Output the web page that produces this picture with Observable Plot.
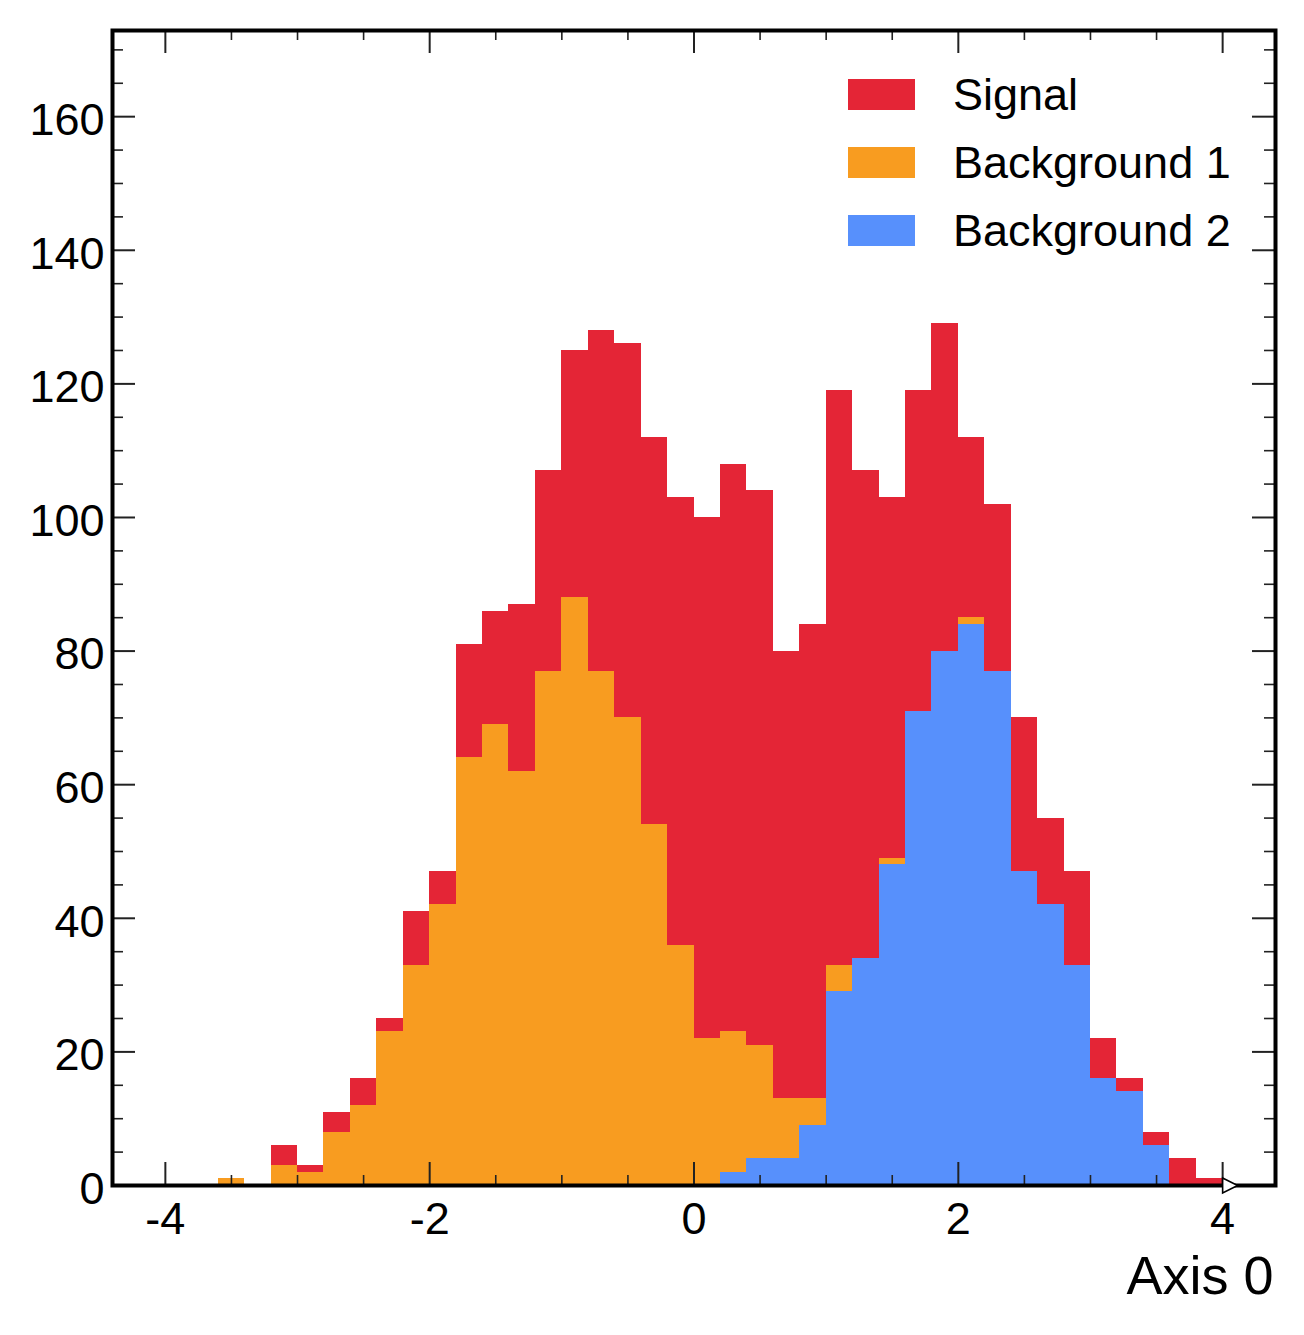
<!DOCTYPE html>
<html>
<head>
<meta charset="utf-8">
<script src="https://cdn.jsdelivr.net/npm/d3@7"></script>
<script src="https://cdn.jsdelivr.net/npm/@observablehq/plot@0.6"></script>
<style>
  html, body { margin: 0; padding: 0; background: #fff; overflow: hidden; }
  #chart svg { display: block; }
</style>
</head>
<body>
<div id="chart"></div>
<script>
// Bin edges (40 bins, width 0.2)
const binEdges = [-4.0, -3.8, -3.6, -3.4, -3.2, -3.0, -2.8, -2.6, -2.4, -2.2,
  -2.0, -1.8, -1.6, -1.4, -1.2, -1.0, -0.8, -0.6, -0.4, -0.2,
  0.0, 0.2, 0.4, 0.6, 0.8, 1.0, 1.2, 1.4, 1.6, 1.8,
  2.0, 2.2, 2.4, 2.6, 2.8, 3.0, 3.2, 3.4, 3.6, 3.8, 4.0];

// Counts per bin
const signal = [0, 0, 0, 0, 3, 1, 3, 4, 2, 8,
  5, 17, 17, 25, 30, 37, 51, 56, 58, 67,
  78, 85, 83, 67, 71, 86, 73, 54, 48, 49,
  27, 25, 23, 13, 14, 6, 2, 2, 4, 1];
const background1 = [0, 0, 1, 0, 3, 2, 8, 12, 23, 33,
  42, 64, 69, 62, 77, 88, 77, 70, 54, 36,
  22, 21, 17, 9, 4, 4, 0, 1, 0, 0,
  1, 0, 0, 0, 0, 0, 0, 0, 0, 0];
const background2 = [0, 0, 0, 0, 0, 0, 0, 0, 0, 0,
  0, 0, 0, 0, 0, 0, 0, 0, 0, 0,
  0, 2, 4, 4, 9, 29, 34, 48, 71, 80,
  84, 77, 47, 42, 33, 16, 14, 6, 0, 0];

const seriesNames = ["Signal", "Background 1", "Background 2"];
const seriesColors = ["#e42536", "#f89c20", "#5790fc"];
const stackOrder = ["Background 2", "Background 1", "Signal"];

const xMajor = [-4, -2, 0, 2, 4];
const xMinor = [-3.5, -3, -2.5, -1.5, -1, -0.5, 0.5, 1, 1.5, 2.5, 3, 3.5];
const yMajor = [0, 20, 40, 60, 80, 100, 120, 140, 160];
const yMinor = [5, 10, 15, 25, 30, 35, 45, 50, 55, 65, 70, 75, 85, 90, 95,
  105, 110, 115, 125, 130, 135, 145, 150, 155, 165, 170];
const xLabel = "Axis 0";
const flowMarkerAt = [4];

// Build table
const valuesBySeries = {"Signal": signal, "Background 1": background1, "Background 2": background2};
const rows = [];
for (const s of stackOrder) {
  valuesBySeries[s].forEach((c, i) => {
    rows.push({series: s, x1: binEdges[i], x2: binEdges[i + 1], count: c});
  });
}

const W = 1304, H = 1335;
const mL = 112, mR = 29, mT = 30, mB = 150;
const frameW = W - mL - mR, frameH = H - mT - mB;
const majorLen = 23, minorLen = 10;
const fontFamily = "'Liberation Sans', Arial, Helvetica, sans-serif";

const rightTriangle = {
  draw(context, size) {
    const r = Math.sqrt(size / Math.PI);
    context.moveTo(0, -r);
    context.lineTo(2 * r, 0);
    context.lineTo(0, r);
    context.closePath();
  }
};

const chart = Plot.plot({
  width: W,
  height: H,
  marginLeft: mL,
  marginRight: mR,
  marginTop: mT,
  marginBottom: mB,
  style: {fontFamily, background: "#fff", color: "#000"},
  x: {domain: [-4.4, 4.4], label: null},
  y: {domain: [0, 172.9], label: null},
  color: {domain: seriesNames, range: seriesColors},
  marks: [
    Plot.rectY(rows, {
      x1: "x1", x2: "x2", y: "count", fill: "series",
      order: stackOrder, shapeRendering: "crispEdges"
    }),
    // inward ticks, bottom
    Plot.tickX(xMajor, {x: d => d, insetTop: frameH - majorLen, stroke: "#222", strokeWidth: 2}),
    Plot.tickX(xMinor, {x: d => d, insetTop: frameH - minorLen, stroke: "#222", strokeWidth: 1.6}),
    // top
    Plot.tickX(xMajor, {x: d => d, insetBottom: frameH - majorLen, stroke: "#222", strokeWidth: 2}),
    Plot.tickX(xMinor, {x: d => d, insetBottom: frameH - minorLen, stroke: "#222", strokeWidth: 1.6}),
    // left
    Plot.tickY(yMajor, {y: d => d, insetRight: frameW - majorLen, stroke: "#222", strokeWidth: 2}),
    Plot.tickY(yMinor, {y: d => d, insetRight: frameW - minorLen - 1, stroke: "#222", strokeWidth: 1.6}),
    // right
    Plot.tickY(yMajor, {y: d => d, insetLeft: frameW - majorLen, stroke: "#222", strokeWidth: 2}),
    Plot.tickY(yMinor, {y: d => d, insetLeft: frameW - minorLen - 1, stroke: "#222", strokeWidth: 1.6}),
    Plot.axisX({ticks: xMajor, tickSize: 0, tickPadding: 17, fontSize: 45, tickFormat: d => String(d), label: null}),
    Plot.axisY({ticks: yMajor, tickSize: 0, tickPadding: 8, fontSize: 45, dy: 4, tickFormat: d => String(d), label: null}),
    Plot.frame({stroke: "#000", strokeWidth: 4}),
    Plot.dot(flowMarkerAt, {x: d => d, y: 0, symbol: rightTriangle, r: 7.5, fill: "#fff", stroke: "#000", strokeWidth: 1.6}),
    Plot.text([xLabel], {text: d => d, frameAnchor: "bottom-right", textAnchor: "end", lineAnchor: "bottom", dx: -2, dy: 108, fontSize: 54, fill: "#000"})
  ]
});

// Legend (top right, inside frame)
const svg = d3.select(chart);
const lg = svg.append("g").attr("font-family", fontFamily).attr("text-anchor", "start");
seriesNames.forEach((name, i) => {
  const y0 = 79 + 68 * i;
  lg.append("rect").attr("x", 848).attr("y", y0).attr("width", 67).attr("height", 31)
    .attr("fill", seriesColors[i]);
  lg.append("text").attr("x", 953).attr("y", y0 + 31).attr("font-size", 45)
    .attr("text-anchor", "start").attr("fill", "#000").text(name);
});

document.getElementById("chart").appendChild(chart);
</script>
</body>
</html>
